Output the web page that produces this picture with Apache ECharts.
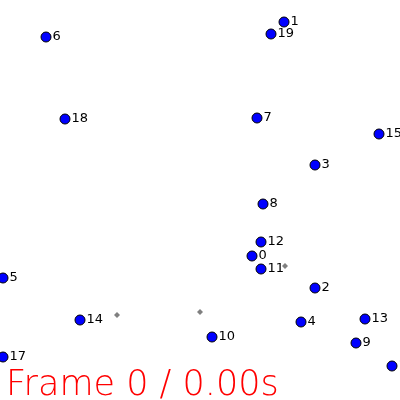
<!DOCTYPE html>
<html><head><meta charset="utf-8">
<script src="https://cdn.jsdelivr.net/npm/echarts@6/dist/echarts.min.js"></script>
<style>html,body{margin:0;padding:0;background:#fff}#c{width:400px;height:400px}</style>
</head><body><div id="c"></div>
<script>
const ids = [0,1,2,3,4,5,6,7,8,9,10,11,12,13,14,15,16,17,18,19];
const xs = [252,284,315,315,301,3,46,257,263,356,212,261,261,365,80,379,392,3,65,271];
const ys = [256,22,288,165,322,278,37,118,204,343,337,269,242,319,320,134,366,357,119,34];
const gx = [285,117,200];
const gy = [266,315,312];
const title = 'Frame 0 / 0.00s';

const pts = ids.map((id,i)=>({value:[xs[i],ys[i]], name:String(id)}));
const gpts = gx.map((x,i)=>[x,gy[i]]);
const chart = echarts.init(document.getElementById('c'));
chart.setOption({
  animation:false,
  grid:{left:0,right:0,top:0,bottom:0},
  xAxis:{type:'value',min:0,max:400,show:false},
  yAxis:{type:'value',min:0,max:400,inverse:true,show:false},
  graphic:[{type:'text',left:6,top:368,style:{text:title,fill:'#ff0000',font:'200 35px "DejaVu Sans ExtraLight", "DejaVu Sans", sans-serif'}}],
  series:[
    {type:'scatter',data:gpts,symbol:'diamond',symbolSize:6,itemStyle:{color:'#808080',opacity:1},z:1},
    {type:'scatter',data:pts,symbol:'circle',symbolSize:10,
     itemStyle:{color:'#0000ff',borderColor:'#000',borderWidth:1,opacity:1},
     label:{show:true,position:'right',distance:1,formatter:p=>p.name,color:'#000',fontSize:13,fontFamily:'DejaVu Sans'},z:2}
  ]
});
</script></body></html>
